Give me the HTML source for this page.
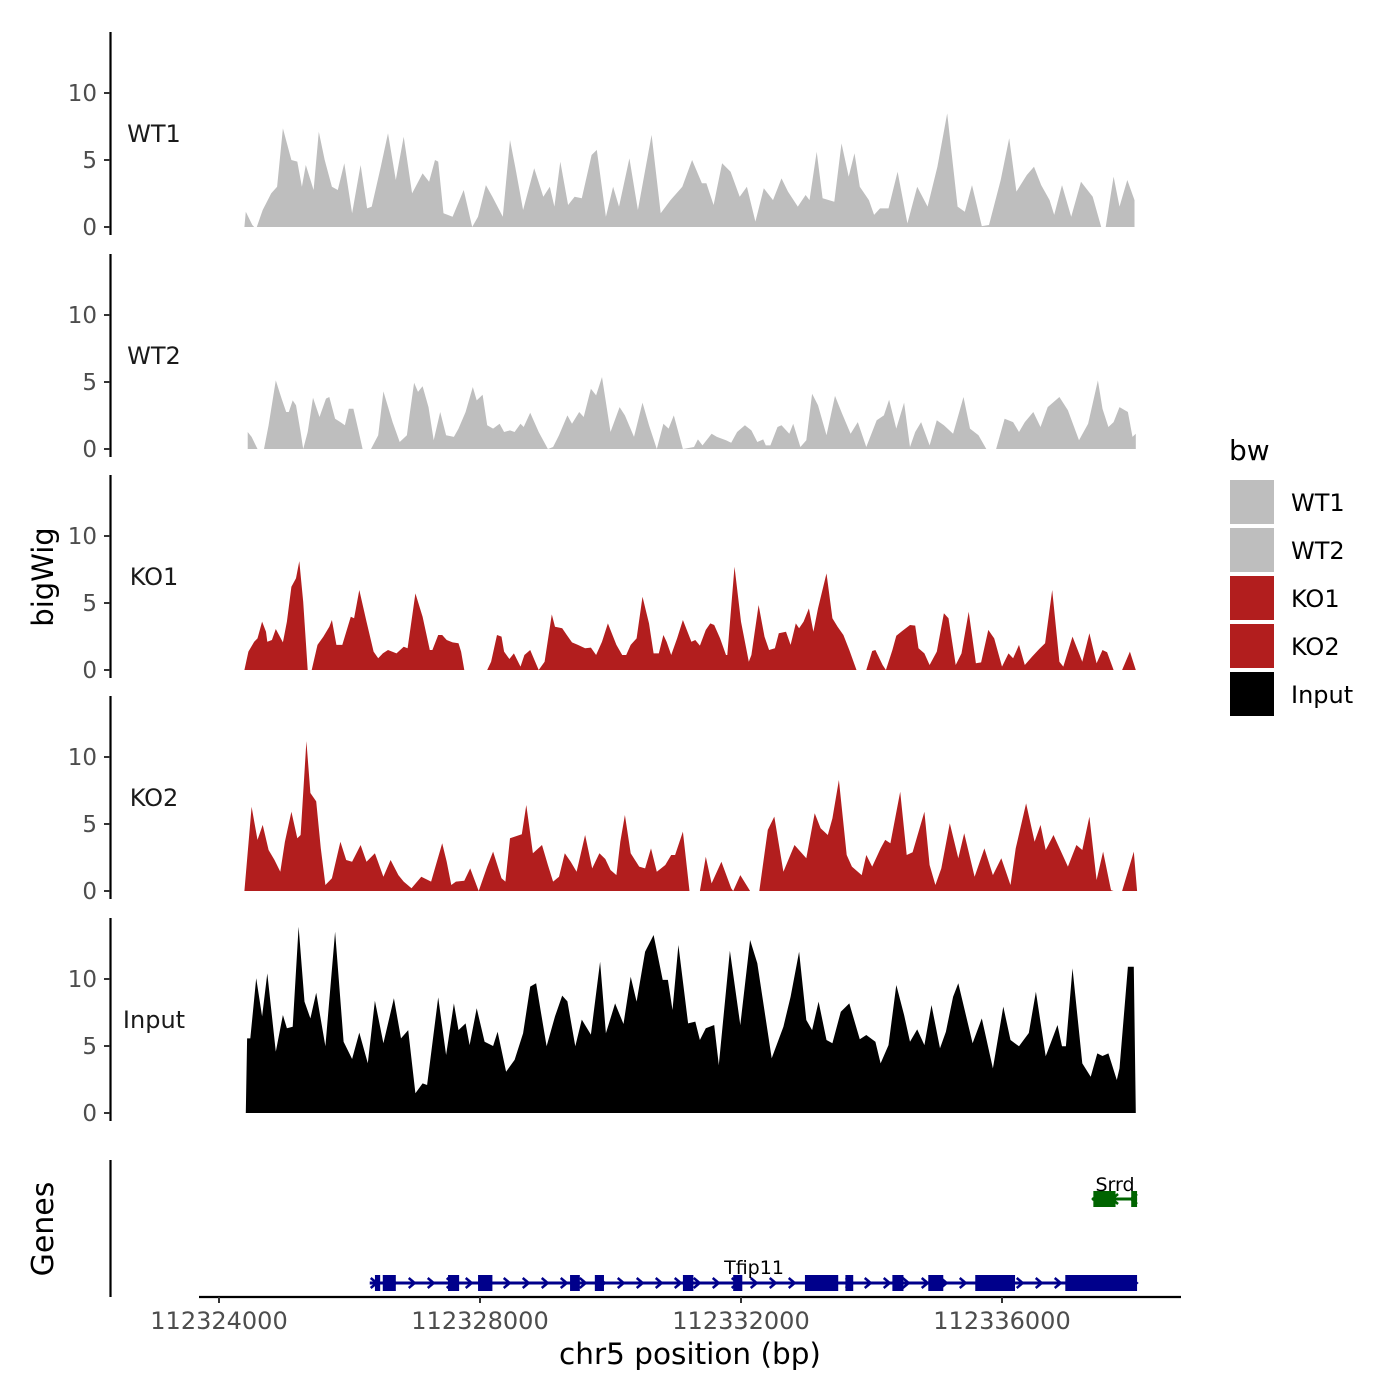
<!DOCTYPE html>
<html><head><meta charset="utf-8"><style>
html,body{margin:0;padding:0;background:#fff;}
svg{display:block;font-family:"DejaVu Sans","Liberation Sans",sans-serif;}
</style></head><body>
<svg id="chart" width="1400" height="1400" viewBox="0 0 1400 1400" xmlns="http://www.w3.org/2000/svg">
<g id="tracks"></g>
<g id="genes"></g>
<g id="axes"></g>
<text x="53" y="577" font-size="29" text-anchor="middle" transform="rotate(-90 53 577)">bigWig</text>
<text x="53" y="1229" font-size="30" text-anchor="middle" transform="rotate(-90 53 1229)">Genes</text>
<text x="690" y="1364" font-size="29.5" text-anchor="middle">chr5 position (bp)</text>
<g id="legend">
<text x="1229" y="460" font-size="28">bw</text>
</g>
</svg>
<script>
// positions in kb offset from 112,324,000 bp; values = coverage
const xTicks = [112324000, 112328000, 112332000, 112336000];
const yTicks = [0, 5, 10];
const trackNames = ["WT1", "WT2", "KO1", "KO2", "Input"];
const trackColors = ["#bebebe", "#bebebe", "#b21e1e", "#b21e1e", "#000000"];

const wt1Pos = [0.39,0.41,0.51,0.54,0.58,0.67,0.80,0.89,0.98,1.11,1.20,1.27,1.33,1.45,1.53,1.62,1.73,1.82,1.92,2.04,2.17,2.27,2.34,2.48,2.59,2.71,2.83,2.96,3.12,3.22,3.31,3.36,3.44,3.58,3.75,3.88,3.97,4.09,4.19,4.35,4.46,4.54,4.66,4.83,4.97,5.07,5.14,5.23,5.35,5.45,5.56,5.71,5.79,5.93,6.04,6.13,6.29,6.42,6.63,6.77,6.92,7.10,7.25,7.40,7.47,7.58,7.71,7.84,7.98,8.09,8.22,8.35,8.49,8.62,8.72,8.87,8.99,9.05,9.16,9.25,9.43,9.54,9.65,9.74,9.82,9.96,10.04,10.13,10.26,10.40,10.55,10.70,10.86,11.01,11.16,11.32,11.43,11.54,11.69,11.80,11.98,12.11,12.22,12.38,12.49,12.60,12.73,12.80,12.92,13.06,13.21,13.39,13.52,13.59,13.71,13.80,13.92,14.03];
const wt1Val = [0,1.14,0.15,0,0,1.27,2.51,3.0,7.36,5.0,4.88,3.0,4.63,2.76,7.11,5.0,3.0,2.76,4.75,1.02,4.63,1.39,1.52,4.5,6.99,3.51,6.74,2.51,4.0,3.38,5.0,4.88,1.02,0.77,2.76,0,0.77,3.13,2.26,0.77,6.49,4.5,1.27,4.38,2.26,3.0,1.52,4.88,1.64,2.26,2.14,5.37,5.75,0.77,3.0,1.52,5.12,1.27,6.87,1.02,2.01,3.0,5.0,3.26,3.26,1.64,4.75,4.13,2.26,3.0,0.4,2.89,2.01,3.63,2.64,1.52,2.39,2.01,5.62,2.14,1.89,6.24,3.76,5.5,3.0,2.01,0.9,1.39,1.39,4.13,0.27,3.0,1.52,4.5,8.48,1.52,1.14,3.13,0.07,0.15,3.51,6.62,2.64,3.88,4.5,3.13,2.01,0.9,3.13,0.77,3.38,2.26,0,0,3.76,1.52,3.51,2.01];

const wt2Pos = [0.44,0.50,0.59,0.69,0.76,0.87,0.96,1.03,1.07,1.13,1.18,1.25,1.29,1.36,1.44,1.54,1.64,1.69,1.78,1.86,1.93,1.99,2.06,2.13,2.20,2.33,2.44,2.52,2.66,2.77,2.88,2.92,2.99,3.05,3.12,3.21,3.29,3.39,3.48,3.60,3.67,3.78,3.89,3.95,4.04,4.11,4.20,4.30,4.37,4.46,4.53,4.62,4.67,4.77,4.90,5.04,5.12,5.21,5.34,5.41,5.52,5.59,5.70,5.78,5.87,6.00,6.14,6.22,6.36,6.49,6.59,6.71,6.81,6.89,6.97,7.11,7.28,7.34,7.41,7.55,7.63,7.77,7.85,7.94,8.06,8.16,8.25,8.34,8.38,8.45,8.56,8.62,8.74,8.80,8.91,9.00,9.09,9.18,9.31,9.44,9.55,9.68,9.79,9.92,10.08,10.19,10.27,10.38,10.50,10.59,10.67,10.76,10.89,11.00,11.11,11.25,11.41,11.51,11.64,11.76,11.91,12.04,12.17,12.26,12.35,12.48,12.59,12.70,12.88,13.01,13.18,13.32,13.47,13.54,13.63,13.71,13.80,13.93,14.00,14.05];
const wt2Val = [1.27,0.90,0,0,1.77,5.12,3.76,2.76,2.76,3.63,3.26,1.27,0,1.27,3.83,2.39,3.76,3.88,2.26,2.01,1.77,3.01,3.01,1.52,0,0,1.02,4.30,2.01,0.52,1.02,2.51,4.95,4.26,4.68,3.13,0.65,2.76,1.02,0.90,1.52,2.76,4.63,3.63,4.05,1.77,1.52,1.89,1.27,1.39,1.27,1.89,1.64,2.71,1.27,0,0.15,1.02,2.51,1.89,2.76,2.39,4.50,4.0,5.37,1.27,3.13,2.51,0.90,3.46,1.77,0,1.89,1.52,2.51,0,0.15,0.72,0.27,1.14,0.90,0.65,0.47,1.27,1.77,1.39,0.52,0.72,0.27,0.27,1.64,1.77,1.14,1.89,0.15,0.65,4.13,3.26,1.02,3.96,2.64,1.14,2.01,0.15,2.14,2.51,3.68,1.52,3.46,0.15,1.27,2.01,0.27,2.14,1.77,1.14,3.88,1.52,1.02,0,0,2.26,2.01,1.27,2.01,2.76,1.64,3.13,3.88,2.89,0.65,1.89,5.12,3.01,1.64,2.01,3.13,2.76,0.90,1.14];

const ko1Pos = [0.39,0.45,0.54,0.59,0.66,0.72,0.74,0.81,0.87,0.92,0.98,1.04,1.11,1.18,1.23,1.29,1.36,1.42,1.51,1.60,1.69,1.73,1.80,1.89,2.02,2.07,2.15,2.26,2.37,2.44,2.51,2.59,2.72,2.83,2.89,3.01,3.12,3.23,3.27,3.36,3.42,3.49,3.58,3.67,3.71,3.76,4.11,4.17,4.26,4.33,4.37,4.45,4.52,4.62,4.68,4.77,4.90,4.99,5.10,5.15,5.26,5.33,5.41,5.50,5.61,5.70,5.78,5.87,5.96,6.09,6.18,6.24,6.31,6.40,6.49,6.59,6.66,6.74,6.81,6.86,6.93,7.02,7.11,7.24,7.30,7.37,7.46,7.53,7.59,7.68,7.77,7.79,7.90,8.00,8.12,8.16,8.27,8.36,8.43,8.52,8.58,8.69,8.76,8.84,8.89,8.96,9.04,9.11,9.18,9.31,9.40,9.48,9.57,9.66,9.77,9.92,10.01,10.06,10.17,10.22,10.32,10.38,10.47,10.59,10.67,10.72,10.81,10.89,11.00,11.11,11.18,11.29,11.38,11.49,11.60,11.68,11.79,11.88,12.00,12.10,12.17,12.26,12.35,12.46,12.57,12.66,12.77,12.88,12.94,13.08,13.23,13.34,13.45,13.54,13.61,13.71,13.84,13.96,14.05];
const ko1Val = [0,1.37,2.11,2.36,3.61,2.86,2.11,2.24,3.06,2.61,2.06,3.61,6.22,6.84,8.13,5.1,0,0,1.87,2.49,3.23,3.73,1.87,1.87,3.98,3.86,5.97,3.61,1.37,0.87,1.24,1.49,1.24,1.74,1.62,5.72,3.98,1.49,1.49,2.61,2.61,2.24,2.06,1.99,1.37,0,0,0.62,2.61,2.49,1.37,0.82,1.24,0.25,1.12,1.49,0,0.62,4.15,3.23,3.11,2.61,2.06,1.87,1.62,1.67,1.12,2.11,3.48,1.87,1.12,1.12,1.87,2.36,5.47,3.48,1.24,1.24,2.61,2.11,1.12,2.36,3.73,2.11,2.24,1.82,2.99,3.48,3.36,2.36,1.12,1.12,7.71,3.61,0.62,1.12,4.85,2.49,1.49,1.62,2.74,2.86,1.87,3.48,3.11,3.61,4.60,2.86,4.60,7.21,3.86,3.23,2.61,1.49,0,0,1.42,1.49,0.37,0,1.49,2.56,2.91,3.36,3.31,1.62,1.24,0.37,1.37,4.23,3.86,0.37,1.24,4.35,0.50,0.57,2.99,2.36,0.25,1.24,0.87,1.87,0.37,0.99,1.57,1.99,5.97,0.62,0.25,2.49,0.62,2.74,0.50,1.49,1.32,0,0,1.37,0];

const ko2Pos = [0.39,0.50,0.59,0.67,0.76,0.85,0.94,1.01,1.11,1.20,1.25,1.34,1.40,1.49,1.56,1.63,1.73,1.86,1.95,2.04,2.17,2.26,2.39,2.52,2.63,2.75,2.83,2.95,3.10,3.25,3.42,3.49,3.56,3.63,3.76,3.85,3.98,4.11,4.20,4.33,4.39,4.46,4.64,4.71,4.81,4.95,5.04,5.12,5.21,5.30,5.39,5.48,5.61,5.72,5.83,5.92,6.00,6.09,6.15,6.22,6.31,6.44,6.53,6.62,6.71,6.84,6.93,6.99,7.11,7.21,7.37,7.46,7.55,7.70,7.85,7.88,7.99,8.14,8.28,8.41,8.51,8.65,8.82,9.00,9.13,9.22,9.33,9.40,9.50,9.62,9.70,9.85,9.92,10.01,10.14,10.21,10.29,10.44,10.54,10.63,10.81,10.89,10.98,11.07,11.20,11.33,11.42,11.58,11.73,11.86,11.99,12.13,12.21,12.37,12.50,12.59,12.67,12.79,13.01,13.14,13.23,13.34,13.45,13.55,13.67,13.71,13.84,14.02,14.07];
const ko2Val = [0,6.29,3.81,4.93,3.06,2.31,1.44,3.68,5.92,3.93,4.18,11.19,7.31,6.69,3.18,0.45,0.95,3.68,2.31,2.19,3.43,2.19,2.81,1.07,2.31,1.19,0.70,0.20,1.07,0.70,3.56,2.19,0.45,0.70,0.77,1.69,0,1.82,2.94,0.95,0.70,3.93,4.23,6.42,2.81,3.43,1.94,0.70,1.07,2.81,2.19,1.44,4.18,1.69,2.81,2.39,1.57,1.19,3.68,5.67,2.81,1.82,1.69,3.18,1.44,1.94,2.69,2.69,4.43,0,0,2.56,0.57,2.19,0.20,0,1.19,0,0,4.56,5.55,1.44,3.43,2.44,5.80,4.68,4.18,5.42,8.28,2.69,1.82,1.19,2.69,1.82,3.18,3.81,3.56,7.41,2.69,2.89,5.92,1.94,0.45,1.69,5.05,2.44,4.31,1.07,3.18,1.19,2.44,0.45,3.18,6.54,3.68,4.93,3.06,4.18,1.82,3.43,3.06,5.55,0.82,2.94,0.07,0,0,2.94,0];

const inputPos = [0.41,0.43,0.48,0.57,0.66,0.74,0.87,0.98,1.04,1.13,1.22,1.31,1.40,1.49,1.63,1.78,1.91,2.04,2.15,2.28,2.39,2.52,2.68,2.79,2.90,3.01,3.12,3.19,3.36,3.48,3.60,3.67,3.78,3.84,3.95,4.07,4.20,4.27,4.40,4.53,4.66,4.77,4.86,5.02,5.15,5.26,5.34,5.46,5.56,5.70,5.84,5.93,6.07,6.20,6.31,6.40,6.53,6.66,6.80,6.88,6.95,7.04,7.19,7.30,7.37,7.46,7.59,7.66,7.83,7.99,8.14,8.25,8.47,8.65,8.76,8.89,9.00,9.09,9.19,9.31,9.40,9.53,9.66,9.82,9.92,10.06,10.14,10.26,10.38,10.50,10.59,10.70,10.81,10.92,11.05,11.14,11.25,11.33,11.55,11.69,11.86,12.02,12.13,12.26,12.41,12.52,12.67,12.85,12.92,12.98,13.08,13.23,13.36,13.46,13.54,13.63,13.76,13.80,13.93,14.02,14.05];
const inputVal = [0,5.57,5.57,10.05,7.21,10.42,4.58,7.31,6.32,6.44,13.9,8.31,7.06,8.98,4.98,13.53,5.32,4.03,6.00,3.71,8.38,5.2,8.56,5.57,6.19,1.47,2.21,2.09,8.63,4.33,8.18,6.19,6.69,5.07,7.81,5.32,5.00,6.07,3.08,3.96,5.95,9.43,9.68,4.98,7.21,8.76,8.33,4.98,6.97,5.85,11.29,5.95,8.18,6.64,10.17,8.31,12.04,13.28,9.93,9.93,7.69,12.54,6.69,6.82,5.45,6.32,6.57,3.58,12.11,6.57,12.91,11.17,4.08,6.44,8.68,12.04,6.94,6.19,8.31,5.45,5.20,7.56,8.18,5.50,5.82,5.32,3.70,5.07,9.55,7.31,5.32,6.24,5.07,8.06,4.83,6.07,8.68,9.68,5.2,7.06,3.33,7.94,5.45,4.98,5.97,9.05,4.23,6.57,4.98,4.98,10.8,3.70,2.71,4.45,4.25,4.45,2.46,3.33,10.92,10.92,0];

const tfip11Span = [2.31, 14.07];
const tfip11ExonStart = [2.39,2.51,3.51,3.97,5.38,5.76,7.11,7.88,8.98,9.60,10.32,10.87,11.59,12.97];
const tfip11ExonEnd = [2.47,2.71,3.68,4.19,5.53,5.90,7.27,8.02,9.49,9.72,10.49,11.10,12.20,14.07];
const srrdSpan = [13.38, 14.07];
const srrdExonStart = [13.40, 13.98];
const srrdExonEnd = [13.74, 14.07];

const NS = "http://www.w3.org/2000/svg";
const ORIGIN_BP = 112324000;
function xScale(kb){ return 219 + kb * 65.25; }
function xScaleBp(bp){ return xScale((bp - ORIGIN_BP) / 1000); }
const PX_PER_UNIT = 13.4;
const baselines = [227, 449, 670, 891, 1113];
function mk(tag, attrs, parent){ const e = document.createElementNS(NS, tag); for (const k in attrs) e.setAttribute(k, attrs[k]); parent.appendChild(e); return e; }

const tracks = document.getElementById("tracks");
const axes = document.getElementById("axes");
const series = [[wt1Pos, wt1Val],[wt2Pos, wt2Val],[ko1Pos, ko1Val],[ko2Pos, ko2Val],[inputPos, inputVal]];

series.forEach((s, i) => {
  const base = baselines[i];
  const yScale = v => base - v * PX_PER_UNIT;
  const pos = s[0], val = s[1];
  let d = "M" + xScale(pos[0]).toFixed(1) + "," + base;
  for (let j = 0; j < pos.length; j++) d += "L" + xScale(pos[j]).toFixed(1) + "," + yScale(val[j]).toFixed(1);
  d += "L" + xScale(pos[pos.length - 1]).toFixed(1) + "," + base + "Z";
  const p = mk("path", {d: d, fill: trackColors[i]}, tracks);
  
  
  const al = mk("line", {x1: 110.5, x2: 110.5, y1: base - 195, y2: base + 8, stroke: "#000", "stroke-width": 2.2}, axes);
  
  
  yTicks.forEach(t => {
    const ty = yScale(t);
    const tk = mk("line", {x1: 104, x2: 110, y1: ty, y2: ty, stroke: "#333", "stroke-width": 2}, axes);
    
    
    const tl = mk("text", {x: 97, y: ty + 8, "font-size": 23, fill: "#4d4d4d", "text-anchor": "end"}, axes);
    tl.textContent = String(t);
    
    
  });
  const lab = mk("text", {x: 154, y: base - 85, "font-size": 24, fill: "#1a1a1a", "text-anchor": "middle"}, axes);
  lab.textContent = trackNames[i];
  
  
});

const genes = document.getElementById("genes");
function drawGene(span, starts, ends, y, color, name, strand, labelX, labelY){
  const g = mk("g", {}, genes);
  
  
  mk("line", {x1: xScale(span[0]), x2: xScale(span[1]), y1: y, y2: y, stroke: color, "stroke-width": 3}, g);
  const x0 = xScale(span[0]), x1 = xScale(span[1]);
  for (let ax = x0 + 4; ax < x1; ax += 19) {
    const dir = strand > 0 ? 1 : -1;
    mk("polyline", {points: (ax - 3*dir) + "," + (y - 5) + " " + (ax + 3*dir) + "," + y + " " + (ax - 3*dir) + "," + (y + 5), fill: "none", stroke: color, "stroke-width": 2.5}, g);
  }
  for (let k = 0; k < starts.length; k++) {
    const r = mk("rect", {x: xScale(starts[k]), y: y - 8, width: Math.max(3, xScale(ends[k]) - xScale(starts[k])), height: 16, fill: color}, g);
    
    
  }
  const t = mk("text", {x: labelX, y: labelY, "font-size": 19, fill: "#000", "text-anchor": "middle"}, g);
  t.textContent = name;
  
  
}
drawGene(tfip11Span, tfip11ExonStart, tfip11ExonEnd, 1283, "#00008b", "Tfip11", 1, 754, 1274);
drawGene(srrdSpan, srrdExonStart, srrdExonEnd, 1199, "#006400", "Srrd", -1, 1115, 1191);

const ga = mk("line", {x1: 110.5, x2: 110.5, y1: 1160, y2: 1297, stroke: "#000", "stroke-width": 2.2}, axes);


const xa = mk("line", {x1: 199, x2: 1181, y1: 1297, y2: 1297, stroke: "#000", "stroke-width": 2.2}, axes);


xTicks.forEach(t => {
  const x = xScaleBp(t);
  const tk = mk("line", {x1: x, x2: x, y1: 1297, y2: 1303, stroke: "#333", "stroke-width": 2}, axes);
  
  
  const tl = mk("text", {x: x, y: 1329, "font-size": 24, fill: "#4d4d4d", "text-anchor": "middle"}, axes);
  tl.textContent = String(t);
  
  
});

const legend = document.getElementById("legend");
trackNames.forEach((n, i) => {
  const y = 480 + i * 48;
  const r = mk("rect", {x: 1230, y: y, width: 44, height: 44, fill: trackColors[i]}, legend);
  
  
  const t = mk("text", {x: 1291, y: y + 31, "font-size": 24, fill: "#000"}, legend);
  t.textContent = n;
  
  
});
</script>
</body></html>
